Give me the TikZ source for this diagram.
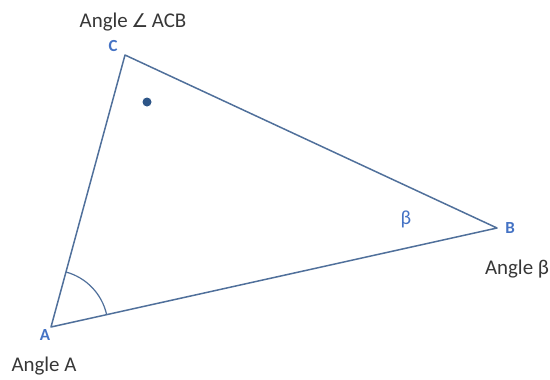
\documentclass[tikz,border=0pt]{standalone}
\usepackage{fontspec}
\usetikzlibrary{angles}
\setmainfont{Carlito}
\definecolor{edge}{RGB}{80,112,155}
\definecolor{lbl}{RGB}{68,114,196}
\definecolor{dotc}{RGB}{45,85,135}
\definecolor{txt}{RGB}{55,55,55}
\newfontfamily\symfont{DejaVu Sans}
\begin{document}
\begin{tikzpicture}[x=1bp,y=-1bp,
  vlabel/.style={text=lbl,font=\fontsize{17}{20}\selectfont\bfseries,inner sep=0pt},
  albl/.style={text=txt,font=\fontsize{21}{24}\selectfont,inner sep=0pt},
  side/.style={draw=edge,line width=1.5bp}]
\useasboundingbox (0,0) rectangle (550,379);
\coordinate (A) at (51,327);
\coordinate (B) at (497,228);
\coordinate (C) at (125,55);
\draw[side,line join=round] (A) -- (B) -- (C) -- cycle;
\pic[draw=edge,line width=1.2bp,angle radius=57bp] {angle=B--A--C};
\fill[dotc] (147,102) circle (4.5bp);
\node[vlabel] (lC) at (113,46) {C};
\node[vlabel] (lA) at (45,335) {A};
\node[vlabel] (lB) at (510,228) {B};
\node[text=lbl,font=\fontsize{20}{24}\selectfont,inner sep=0pt] (beta) at (406,219) {β};
\node[albl] (tC) at (133,22) {Angle\,{\symfont\fontsize{19}{22}\selectfont∠}\,ACB};
\node[albl] (tA) at (44,366) {Angle A};
\node[albl] (tB) at (517,269) {Angle β};
\end{tikzpicture}
\end{document}
